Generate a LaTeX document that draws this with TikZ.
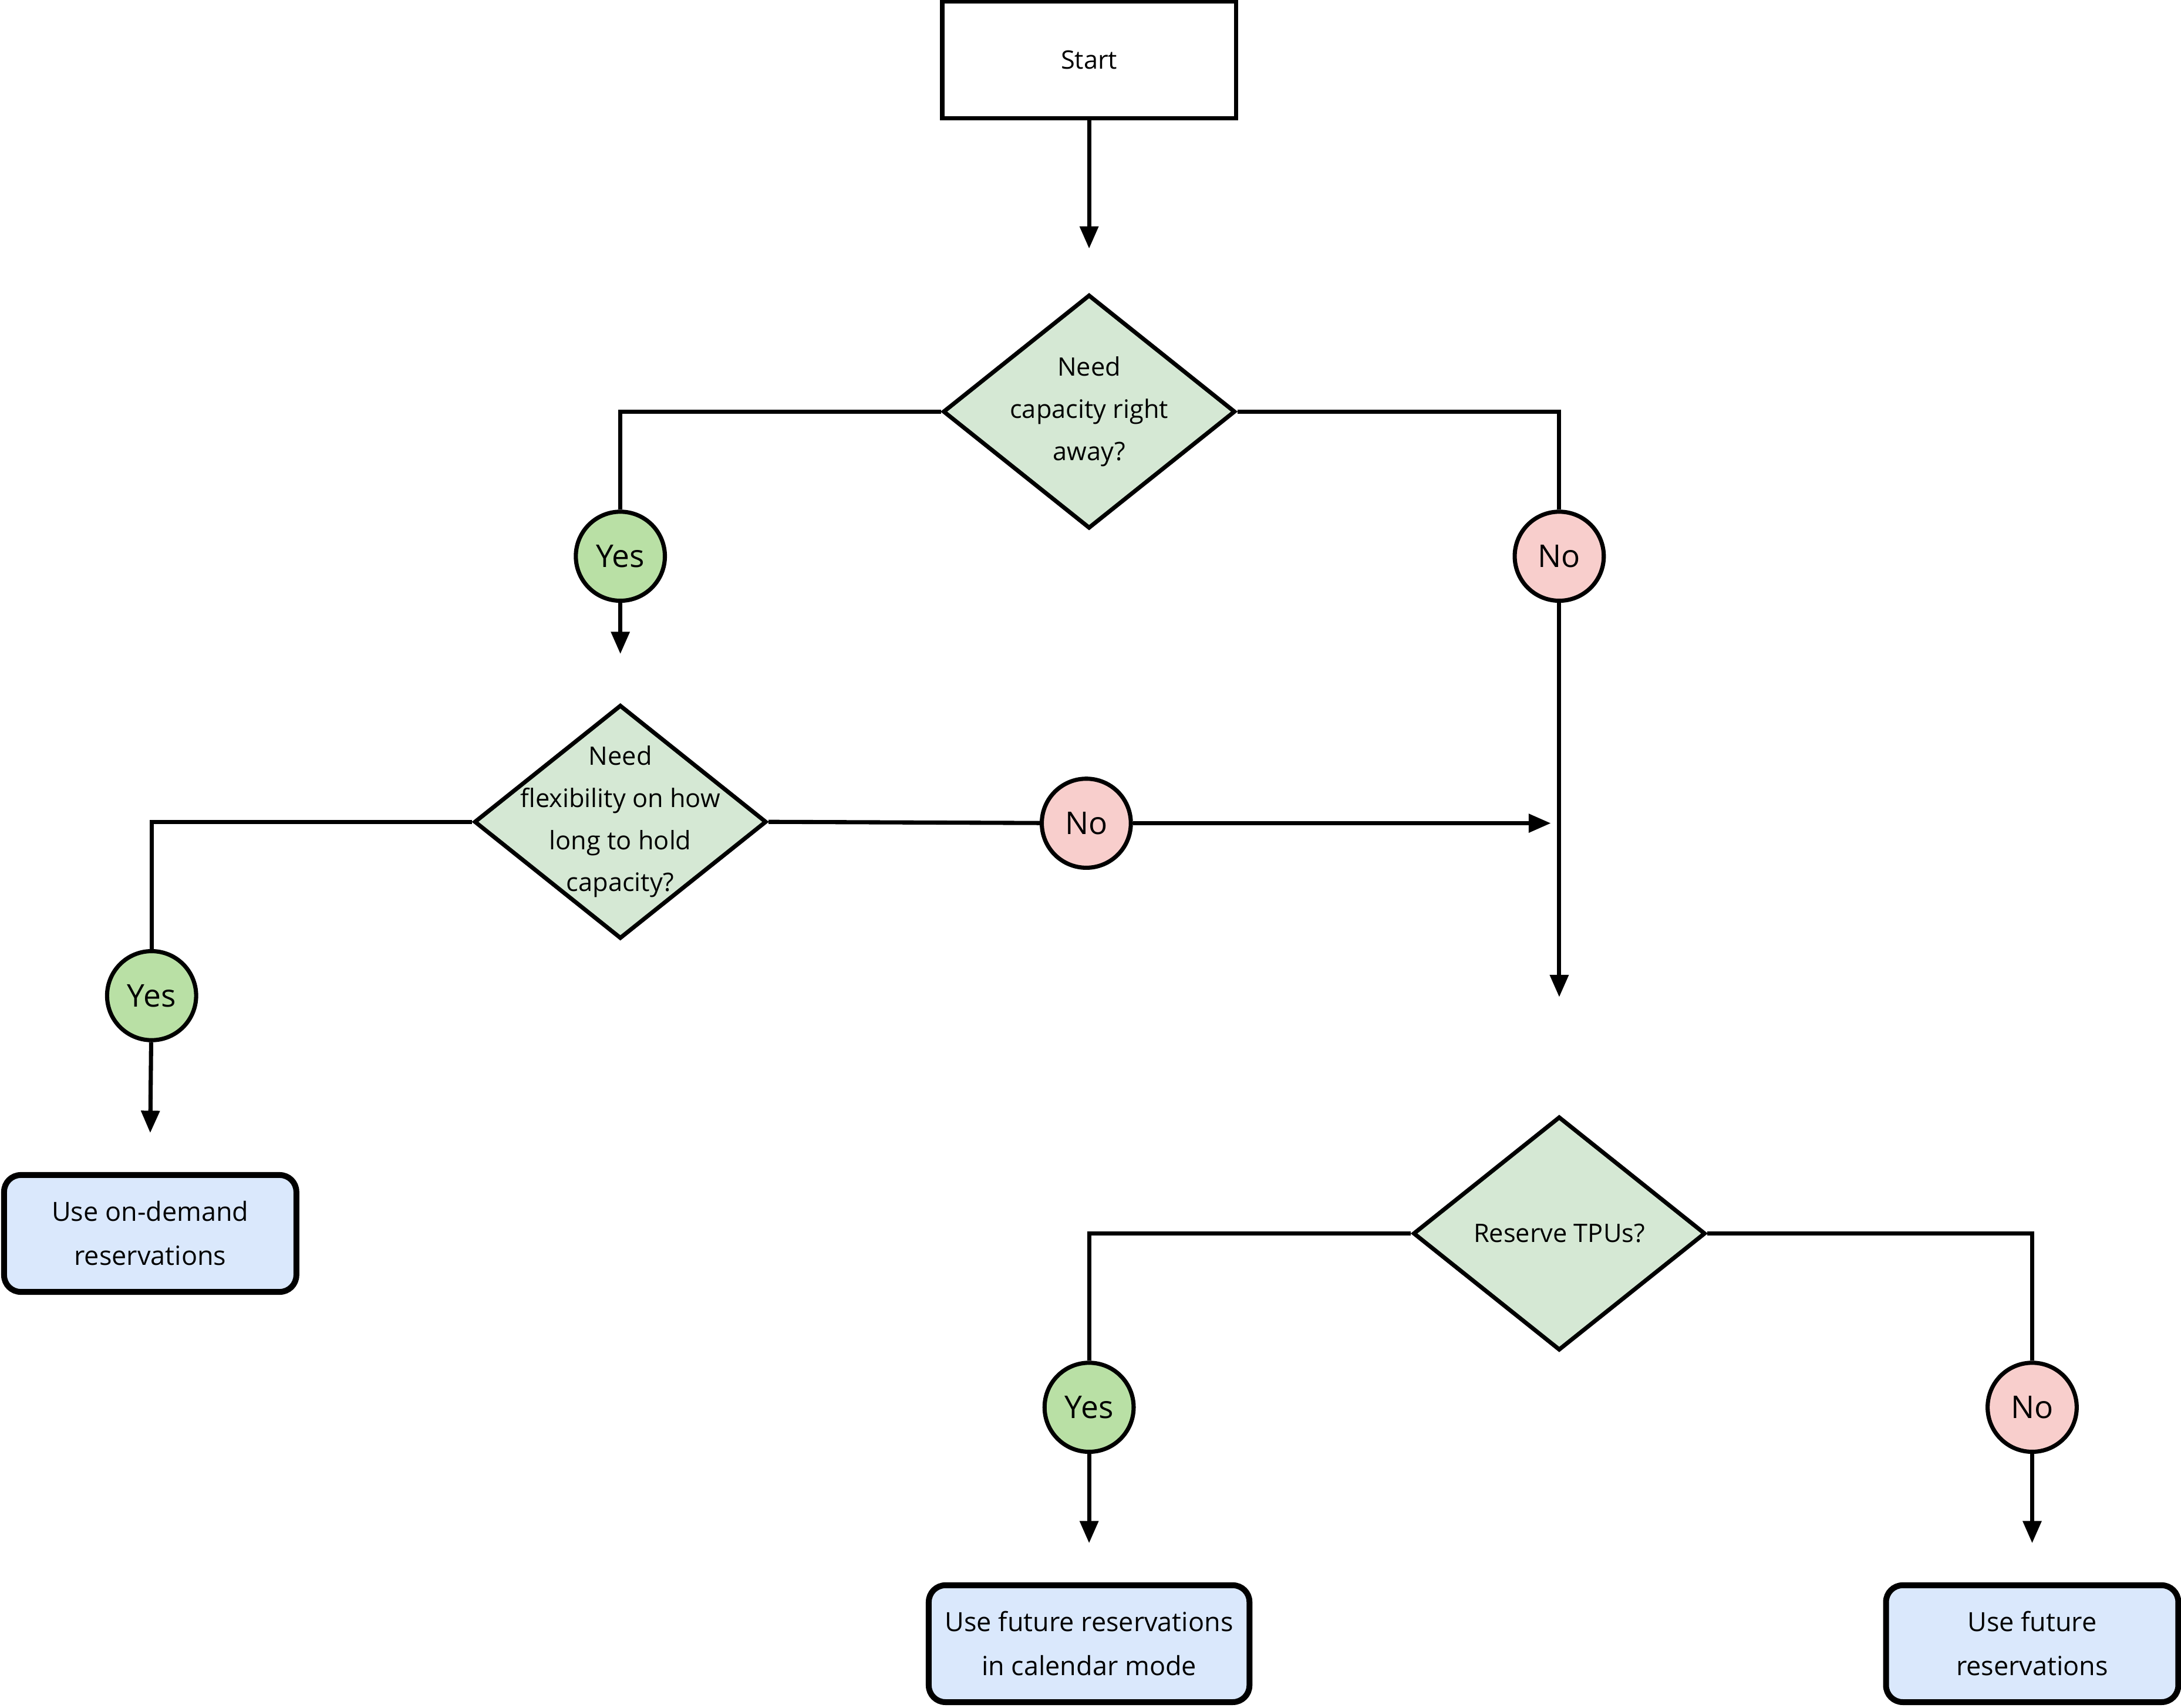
\documentclass[tikz,border=0pt]{standalone}
\usepackage{fontspec}
\setmainfont{Open Sans}
\usetikzlibrary{shapes.geometric, arrows.meta, positioning}
\definecolor{decfill}{HTML}{D5E8D4}
\definecolor{yesfill}{HTML}{B9E0A5}
\definecolor{nofill}{HTML}{F8CECC}
\definecolor{endfill}{HTML}{DAE8FC}
\tikzstyle{startbox} = [rectangle, line width=0.85pt, minimum width=2.11cm, minimum height=0.84cm, draw=black, font=\fontsize{5.2}{6.5}\selectfont]
\tikzstyle{decision} = [diamond, line width=0.85pt, minimum width=2.1cm, minimum height=1.68cm, inner sep=0pt, draw=black, fill=decfill]
\tikzstyle{dectext} = [align=center, font=\fontsize{5.2}{8.6}\selectfont]
\tikzstyle{yesdot} = [circle, line width=0.85pt, minimum size=0.64cm, inner sep=0pt, draw=black, fill=yesfill, font=\fontsize{6.4}{7}\selectfont]
\tikzstyle{nodot} = [yesdot, fill=nofill]
\tikzstyle{result} = [rectangle, rounded corners=1.2mm, line width=1.2pt, minimum width=2.1cm, minimum height=0.84cm, align=center, draw=black, fill=endfill, font=\fontsize{5.4}{9}\selectfont]
\tikzstyle{arrow} = [line width=0.85pt, -{Triangle[length=1.6mm, width=1.3mm]}]
\tikzstyle{link} = [line width=0.85pt]
\begin{document}
\begin{tikzpicture}[x=0.01cm, y=-0.01cm]
		\useasboundingbox (0,0) rectangle (1568,1228);
		\node (Start) [startbox] at (783,43) {Start};
		\node (Capacity) [decision] at (783,296) {};
		\node (CapacityText) [dectext] at (Capacity.center) {Need\\capacity right\\away?};
		\node (YesNow) [yesdot] at (446,400) {Yes};
		\node (NoNow) [nodot] at (1121,400) {No};
		\node (Flexible) [decision] at (446,591) {};
		\node (FlexibleText) [dectext] at (Flexible.center) {Need\\flexibility on how\\long to hold\\capacity?};
		\node (NoFlex) [nodot] at (781,592) {No};
		\coordinate (Merge) at (1115,592);
		\node (YesFlex) [yesdot] at (109,716) {Yes};
		\node (OnDemand) [result] at (108,887) {Use on-demand\\reservations};
		\node (TPU) [decision] at (1121,887) {};
		\node (TPUText) [dectext] at (TPU.center) {Reserve TPUs?};
		\node (YesTPU) [yesdot] at (783,1012) {Yes};
		\node (NoTPU) [nodot] at (1461,1012) {No};
		\node (Calendar) [result] at (783,1182) {Use future reservations\\in calendar mode};
		\node (Future) [result] at (1461,1182) {Use future\\reservations};
		\draw [arrow] (Start) -- ([yshift=9]Capacity.north);
		\draw [link] (Capacity.west) -| (YesNow);
		\draw [link] (Capacity.east) -| (NoNow);
		\draw [arrow] (YesNow) -- ([yshift=10]Flexible.north);
		\draw [arrow] (NoNow) -- ([yshift=24]TPU.north);
		\draw [link] (Flexible.west) -| (YesFlex);
		\draw [link] (Flexible.east) -- (NoFlex);
		\draw [arrow] (NoFlex) -- (Merge);
		\draw [arrow] (YesFlex) -- ([yshift=8]OnDemand.north);
		\draw [link] (TPU.west) -| (YesTPU);
		\draw [link] (TPU.east) -| (NoTPU);
		\draw [arrow] (YesTPU) -- ([yshift=8]Calendar.north);
		\draw [arrow] (NoTPU) -- ([yshift=8]Future.north);
\end{tikzpicture}
\end{document}
